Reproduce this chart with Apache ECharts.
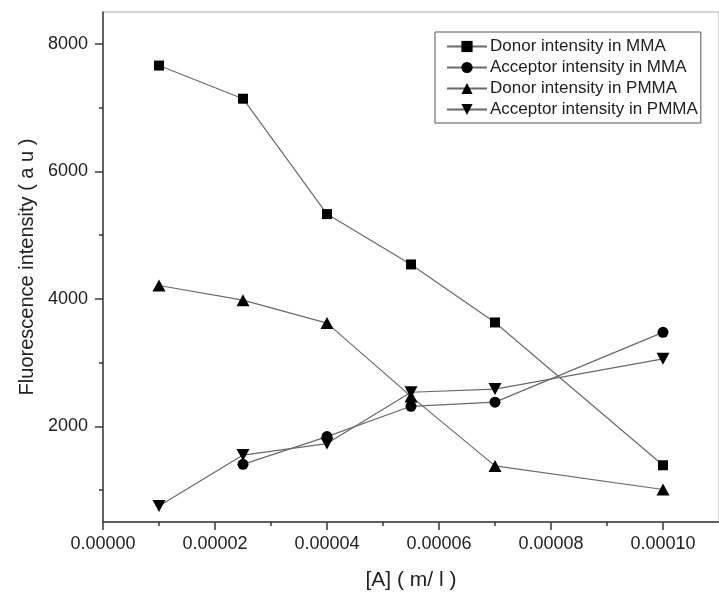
<!DOCTYPE html>
<html>
<head>
<meta charset="utf-8">
<script src="https://cdn.jsdelivr.net/npm/echarts@6/dist/echarts.min.js"></script>
<style>
html,body{margin:0;padding:0;background:#fff;}
#chart{width:719px;height:596px;}
</style>
</head>
<body>
<div id="chart"></div>
<script>
var xValues = [0.00001, 0.000025, 0.00004, 0.000055, 0.00007, 0.0001];
var donorMMA = [7660, 7140, 5330, 4540, 3630, 1390];
var acceptorMMA = [null, 1405, 1840, 2315, 2380, 3475];
var donorPMMA = [4210, 3980, 3620, 2470, 1380, 1010];
var acceptorPMMA = [750, 1550, 1730, 2535, 2585, 3060];
var seriesNames = ['Donor intensity in MMA', 'Acceptor intensity in MMA', 'Donor intensity in PMMA', 'Acceptor intensity in PMMA'];
var xMajorTicks = [0, 0.00002, 0.00004, 0.00006, 0.00008, 0.0001];
var xMinorTicks = [0.00001, 0.00003, 0.00005, 0.00007, 0.00009];
var yMajorTicks = [2000, 4000, 6000, 8000];
var yMinorTicks = [1000, 3000, 5000, 7000];
var xAxisTitle = '[A] ( m/ l )';
var yAxisTitle = 'Fluorescence intensity ( a u )';

function pairs(ys) {
  var out = [];
  for (var i = 0; i < xValues.length; i++) {
    if (ys[i] !== null) out.push([xValues[i], ys[i]]);
  }
  return out;
}

var FONT = "'Liberation Sans', Arial, sans-serif";
var axisColor = '#3a3a3a';
var lineColor = '#6a6a6a';

var chart = echarts.init(document.getElementById('chart'), null, {renderer: 'canvas'});

function mkSeries(name, ys, symbol, size, rotate) {
  return {
    name: name,
    type: 'line',
    data: pairs(ys),
    xAxisIndex: 0,
    yAxisIndex: 0,
    symbol: symbol,
    symbolSize: size,
    symbolRotate: rotate || 0,
    showAllSymbol: true,
    color: '#000',
    itemStyle: {color: '#000', borderWidth: 0},
    lineStyle: {color: lineColor, width: 1.2},
    emphasis: {disabled: true},
    animation: false,
    z: 3
  };
}

var option = {
  backgroundColor: '#fff',
  animation: false,
  grid: {
    left: 103, top: 12, right: -11, bottom: 73,
    show: true, borderColor: '#b0b0b0', borderWidth: 1, backgroundColor: 'transparent'
  },
  legend: {
    orient: 'vertical',
    left: 435, top: 32,
    padding: [6, 3, 5, 11],
    itemWidth: 40, itemHeight: 14, itemGap: 4,
    borderColor: '#555', borderWidth: 1,
    backgroundColor: '#fff',
    selectedMode: false,
    symbolRotate: 'inherit',
    textStyle: {fontFamily: FONT, fontSize: 17, color: '#222', lineHeight: 16.5, padding: [0, 0, 0, -2]},
    data: seriesNames
  },
  xAxis: [{
    type: 'value',
    min: 0, max: 0.00011,
    position: 'bottom',
    name: xAxisTitle,
    nameLocation: 'middle',
    nameGap: 48,
    nameTextStyle: {fontFamily: FONT, fontSize: 21, color: '#222'},
    axisLine: {show: true, onZero: false, lineStyle: {color: axisColor, width: 1.5}},
    axisTick: {show: true, inside: false, length: 8, customValues: xMajorTicks, lineStyle: {color: axisColor, width: 1.5}},
    axisLabel: {show: true, margin: 13, customValues: xMajorTicks, fontFamily: FONT, fontSize: 18, color: '#222',
      formatter: function (v) { return v.toFixed(5); }},
    splitLine: {show: false}
  }, {
    type: 'value',
    min: 0, max: 0.00011,
    position: 'bottom',
    axisLine: {show: false},
    axisTick: {show: true, inside: false, length: 4, customValues: xMinorTicks, lineStyle: {color: axisColor, width: 1.5}},
    axisLabel: {show: false},
    splitLine: {show: false}
  }],
  yAxis: [{
    type: 'value',
    min: 500, max: 8500,
    position: 'left',
    name: yAxisTitle,
    nameLocation: 'middle',
    nameGap: 66,
    nameRotate: 90,
    nameTextStyle: {fontFamily: FONT, fontSize: 20, color: '#222'},
    axisLine: {show: true, onZero: false, lineStyle: {color: axisColor, width: 1.5}},
    axisTick: {show: true, inside: false, length: 8, customValues: yMajorTicks, lineStyle: {color: axisColor, width: 1.5}},
    axisLabel: {show: true, margin: 15, customValues: yMajorTicks, fontFamily: FONT, fontSize: 18, color: '#222',
      formatter: function (v) { return String(v); }},
    splitLine: {show: false}
  }, {
    type: 'value',
    min: 500, max: 8500,
    position: 'left',
    axisLine: {show: false},
    axisTick: {show: true, inside: false, length: 4, customValues: yMinorTicks, lineStyle: {color: axisColor, width: 1.5}},
    axisLabel: {show: false},
    splitLine: {show: false}
  }],
  series: [
    mkSeries(seriesNames[0], donorMMA, 'rect', 10, 0),
    mkSeries(seriesNames[1], acceptorMMA, 'circle', 11, 0),
    mkSeries(seriesNames[2], donorPMMA, 'triangle', [13, 12], 0),
    mkSeries(seriesNames[3], acceptorPMMA, 'triangle', [13, 12], 180)
  ]
};
chart.setOption(option);
</script>
</body>
</html>
